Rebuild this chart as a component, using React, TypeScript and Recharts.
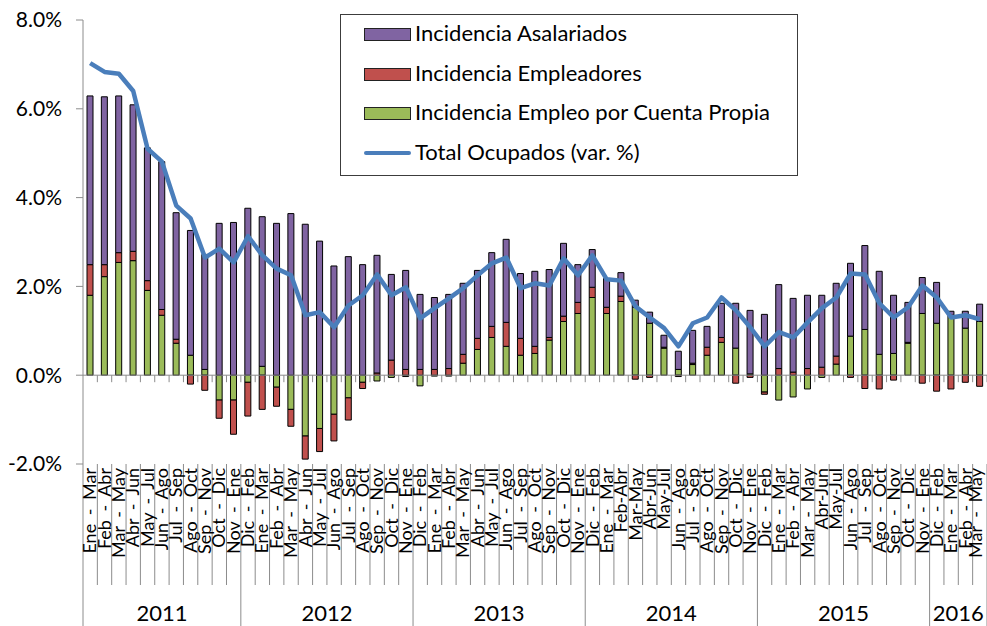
import { Bar, ComposedChart, Legend, Line, ReferenceLine, XAxis, YAxis } from "recharts";

// trimestres móviles, ene-mar 2011 a mar-may 2016
const periods = [
  "Ene - Mar", "Feb - Abr", "Mar - May", "Abr - Jun", "May - Jul", "Jun - Ago", "Jul - Sep", "Ago - Oct", "Sep - Nov", "Oct - Dic", "Nov - Ene",
  "Dic - Feb", "Ene - Mar", "Feb - Abr", "Mar - May", "Abr - Jun", "May - Jul", "Jun - Ago", "Jul - Sep", "Ago - Oct", "Sep - Nov", "Oct - Dic", "Nov - Ene",
  "Dic - Feb", "Ene - Mar", "Feb - Abr", "Mar - May", "Abr - Jun", "May - Jul", "Jun - Ago", "Jul - Sep", "Ago - Oct", "Sep - Nov", "Oct - Dic", "Nov - Ene",
  "Dic - Feb", "Ene - Mar", "Feb-Abr", "Mar-May", "Abr-Jun", "May-Jul", "Jun - Ago", "Jul - Sep", "Ago - Oct", "Sep - Nov", "Oct - Dic", "Nov - Ene",
  "Dic - Feb", "Ene - Mar", "Feb - Abr", "Mar - May", "Abr-Jun", "May-Jul", "Jun - Ago", "Jul - Sep", "Ago - Oct", "Sep - Nov", "Oct - Dic", "Nov - Ene",
  "Dic - Feb", "Ene - Mar", "Feb - Abr", "Mar - May"
];
const years = ["2011", "2012", "2013", "2014", "2015", "2016"];
const yearSpans = [11, 12, 12, 12, 12, 4];

const asalariados = [
  3.80, 3.78, 3.53, 3.30, 2.99, 3.33, 2.85, 2.81, 2.59, 3.42, 3.44,
  3.76, 3.37, 3.42, 3.64, 3.40, 3.02, 2.46, 2.67, 2.49, 2.65, 1.93, 2.23,
  1.69, 1.62, 1.67, 1.60, 1.53, 1.66, 1.87, 1.46, 1.69, 1.53, 1.64, 0.85,
  0.85, 0.65, 0.53, 0.16, 0.25, 0.27, 0.41, 0.74, 0.47, 0.77, 1.01, 1.43,
  1.37, 1.89, 1.66, 1.65, 1.62, 1.64, 1.64, 1.89, 1.87, 1.31, 0.90, 0.81,
  0.92, 0.09, 0.38, 0.39
];
const empleadores = [
  0.69, 0.27, 0.22, 0.21, 0.22, 0.13, 0.09, -0.20, -0.34, -0.41, -0.77,
  -0.76, -0.77, -0.43, -0.38, -0.52, -0.52, -0.60, -0.50, -0.14, 0.05, 0.34, 0.13,
  0.13, 0.13, 0.15, 0.20, 0.25, 0.25, 0.54, 0.38, 0.16, 0.06, 0.12, 0.25,
  0.23, 0.14, 0.12, -0.09, -0.05, 0.02, -0.03, 0.03, 0.18, 0.11, -0.18, -0.05,
  -0.05, 0.15, 0.07, 0.15, 0.18, 0.18, -0.05, -0.30, -0.31, -0.11, 0.02, -0.18,
  -0.36, -0.31, -0.16, -0.25
];
const cuentaPropia = [
  1.80, 2.22, 2.54, 2.58, 1.91, 1.35, 0.72, 0.45, 0.13, -0.56, -0.56,
  -0.16, 0.20, -0.27, -0.77, -1.37, -1.20, -0.88, -0.51, -0.16, -0.13, -0.05, -0.03,
  -0.24, -0.02, -0.02, 0.27, 0.58, 0.85, 0.65, 0.45, 0.49, 0.79, 1.21, 1.39,
  1.75, 1.39, 1.66, 1.53, 1.17, 0.61, 0.13, 0.24, 0.45, 0.74, 0.61, 0.03,
  -0.38, -0.56, -0.49, -0.31, -0.05, 0.25, 0.88, 1.03, 0.47, 0.49, 0.72, 1.39,
  1.17, 1.35, 1.06, 1.21
];
const totalOcupados = [
  7.03, 6.83, 6.79, 6.40, 5.10, 4.81, 3.82, 3.53, 2.65, 2.85, 2.54,
  3.13, 2.70, 2.40, 2.25, 1.35, 1.42, 1.08, 1.57, 1.80, 2.27, 1.80, 1.98,
  1.28, 1.51, 1.73, 1.96, 2.25, 2.52, 2.65, 1.96, 2.07, 2.02, 2.63, 2.25,
  2.70, 2.16, 2.13, 1.55, 1.30, 1.06, 0.65, 1.17, 1.30, 1.75, 1.46, 1.08,
  0.65, 0.97, 0.85, 1.19, 1.51, 1.75, 2.29, 2.27, 1.62, 1.30, 1.53, 2.02,
  1.75, 1.30, 1.35, 1.26
];
const yTicks = [-2, 0, 2, 4, 6, 8];

const data = periods.map((period, i) => ({
  period,
  asalariados: asalariados[i],
  empleadores: empleadores[i],
  cuentaPropia: cuentaPropia[i],
  total: totalOcupados[i]
}));

const W = 987;
const H = 626;
const Y_AXIS_W = 83;
const X_AXIS_H = 162;
const BAND = (W - Y_AXIS_W) / periods.length;
const AXIS = "#8c8c8c";
const FONT = "Lato, 'Open Sans', sans-serif";

const colors = {
  asalariados: "#8064A2",
  empleadores: "#C0504D",
  cuentaPropia: "#9BBB59",
  total: "#4A7EBB"
};
const legendOrder = ["asalariados", "empleadores", "cuentaPropia", "total"];

// start index of each year group
const yearStarts = yearSpans.map((_, i) => yearSpans.slice(0, i).reduce((a, b) => a + b, 0));

const PeriodTick = (props: any) => {
  const { x, y, payload, index } = props;
  const half = payload?.offset || BAND / 2;
  const yearEnd = yearStarts.includes(index + 1) || index === periods.length - 1;
  const yearIdx = yearStarts.indexOf(index);
  // keep the last label inside the frame
  const labelX = Math.min(x, W - 11);
  return (
    <g>
      {index === 0 && <line x1={x - half} y1={y} x2={x - half} y2={H} stroke={AXIS} />}
      <line x1={x + half} y1={y} x2={x + half} y2={yearEnd ? H : y + 121} stroke={AXIS} />
      <text
        transform={`translate(${labelX},${y + 4}) rotate(-90)`}
        textAnchor="end"
        dy="0.34em"
        fontSize={18}
        fontFamily={FONT}
        fill="#000"
        style={{ wordSpacing: "4px" }}
      >
        {payload.value}
      </text>
      {yearIdx >= 0 && (
        <text x={x + (yearSpans[yearIdx] - 1) * half} y={H - 5} textAnchor="middle" fontSize={22} fontFamily={FONT} fill="#000">
          {years[yearIdx]}
        </text>
      )}
    </g>
  );
};

const ZeroAxis = (props: any) => {
  const { x1, x2, y1 } = props;
  const step = (x2 - x1) / periods.length;
  return (
    <g>
      <line x1={x1} y1={y1} x2={x2} y2={y1} stroke={AXIS} />
      {periods.map((p, i) => (
        <line key={i} x1={x1 + (i + 1) * step} y1={y1} x2={x1 + (i + 1) * step} y2={y1 + 7} stroke={AXIS} />
      ))}
    </g>
  );
};

const LegendBox = ({ payload }: any) => {
  const items = [...(payload || [])].sort((a, b) => legendOrder.indexOf(a.dataKey) - legendOrder.indexOf(b.dataKey));
  return (
    <div
      style={{
        width: 458,
        height: 162,
        boxSizing: "border-box",
        border: "1px solid #3c3c3c",
        background: "#fff",
        paddingTop: 0,
        fontFamily: FONT,
        fontSize: 22
      }}
    >
      {items.map((item: any) => (
        <div key={item.dataKey} style={{ display: "flex", alignItems: "center", height: 39.5, paddingLeft: 23 }}>
          {item.dataKey === "total" ? (
            <span style={{ width: 47, height: 4, background: colors.total, borderRadius: 2 }} />
          ) : (
            <span
              style={{
                width: 45,
                height: 11,
                background: colors[item.dataKey as keyof typeof colors],
                border: "1px solid #222"
              }}
            />
          )}
          <span style={{ marginLeft: 4, color: "#000", lineHeight: "22px", marginTop: -3 }}>{item.value}</span>
        </div>
      ))}
    </div>
  );
};

export default function App() {
  return (
    <div style={{ width: W, height: H, background: "#fff", fontFamily: FONT }}>
      <style>{"body{margin:0}"}</style>
      <ComposedChart
        width={W}
        height={H}
        data={data}
        stackOffset="sign"
        barSize={6}
        margin={{ top: 20, right: 0, bottom: 0, left: 0 }}
      >
        <XAxis
          dataKey="period"
          interval={0}
          height={X_AXIS_H}
          axisLine={false}
          tickLine={false}
          tickSize={0}
          tickMargin={0}
          tick={<PeriodTick />}
        />
        <YAxis
          width={Y_AXIS_W}
          domain={[-2, 8]}
          ticks={yTicks}
          tickFormatter={(v: number) => `${v.toFixed(1)}%`}
          stroke={AXIS}
          tickSize={7}
          tickMargin={14}
          tick={{ fill: "#000", fontSize: 21, fontFamily: FONT }}
        />
        <Bar dataKey="cuentaPropia" name="Incidencia Empleo por Cuenta Propia" stackId="a" fill={colors.cuentaPropia} stroke="#000" strokeWidth={1} isAnimationActive={false} />
        <Bar dataKey="empleadores" name="Incidencia Empleadores" stackId="a" fill={colors.empleadores} stroke="#000" strokeWidth={1} isAnimationActive={false} />
        <Bar dataKey="asalariados" name="Incidencia Asalariados" stackId="a" fill={colors.asalariados} stroke="#000" strokeWidth={1} isAnimationActive={false} />
        <ReferenceLine y={0} shape={<ZeroAxis />} />
        <Line
          dataKey="total"
          name="Total Ocupados (var. %)"
          type="linear"
          stroke={colors.total}
          strokeWidth={4.5}
          strokeLinejoin="round"
          dot={false}
          activeDot={false}
          isAnimationActive={false}
        />
        <Legend
          layout="horizontal"
          verticalAlign="middle"
          align="center"
          content={<LegendBox />}
          wrapperStyle={{ left: 340, top: 14, right: "auto", bottom: "auto", width: 458, height: 162 }}
        />
      </ComposedChart>
    </div>
  );
}
